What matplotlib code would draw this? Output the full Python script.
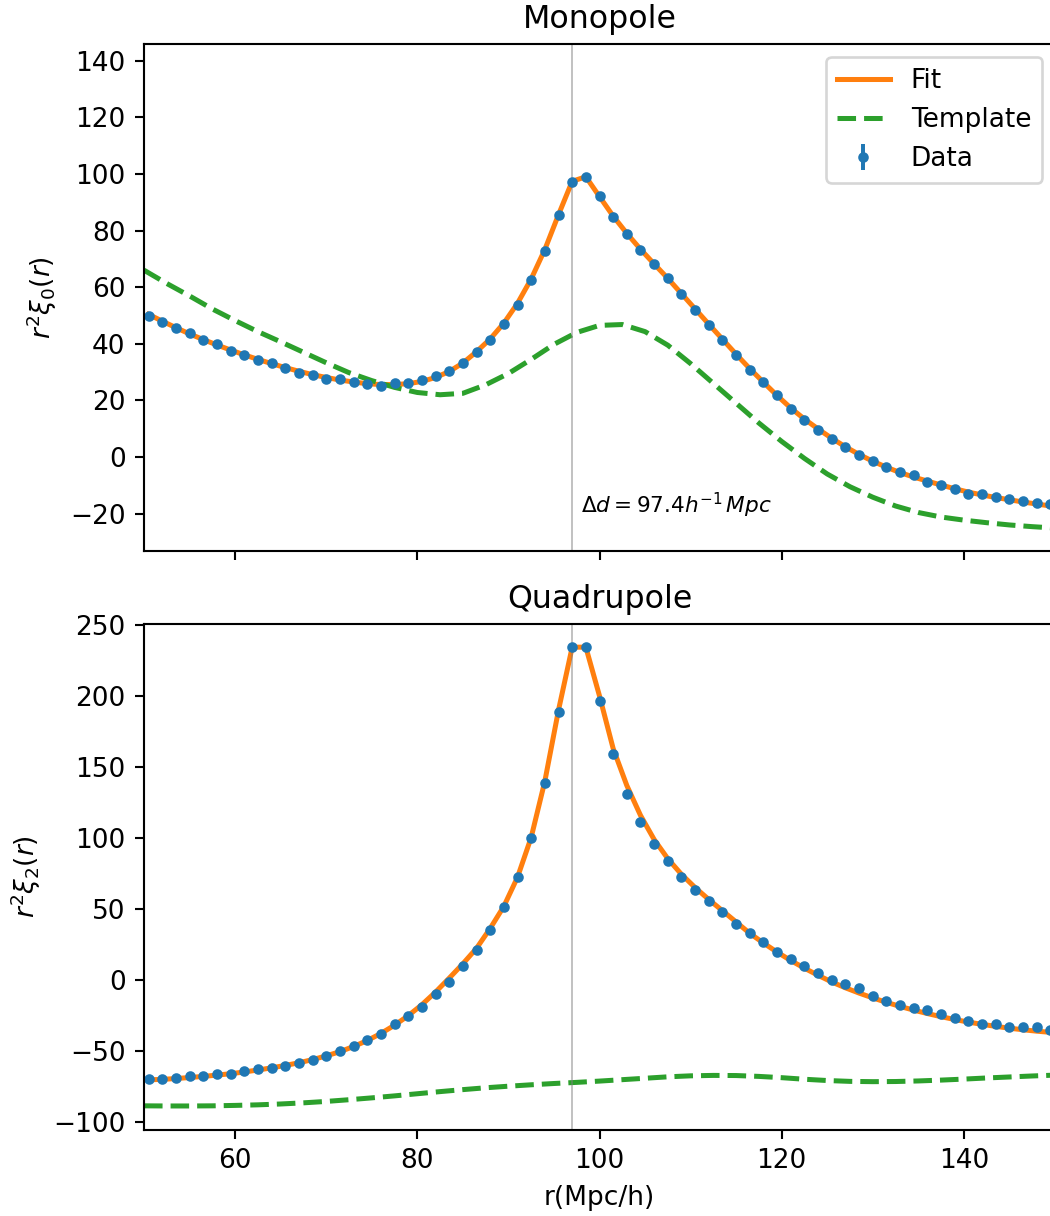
import numpy as np
import matplotlib
matplotlib.use("Agg")
import matplotlib.pyplot as plt

# separation bins (h^-1 Mpc), 1.5 wide
r = np.arange(67) * 1.5 + 50.5
r_tpl = np.arange(41) * 2.5 + 50.0

##### MONOPOLE #####
xi0_data = [49.9, 47.6, 45.4, 43.7, 41.4, 39.9, 37.6, 36.0, 34.2, 33.1,
            31.4, 29.7, 29.1, 27.6, 27.6, 26.4, 25.8, 25.2, 26.0, 26.0,
            27.1, 28.7, 30.3, 33.1, 37.1, 41.5, 47.0, 53.8, 62.6, 72.7,
            85.5, 97.1, 99.0, 92.2, 84.9, 78.7, 73.2, 68.2, 63.3, 57.5,
            52.1, 46.6, 41.5, 36.0, 30.9, 26.4, 21.9, 16.9, 13.1, 9.7,
            6.5, 3.6, 0.7, -1.5, -3.5, -5.3, -6.5, -8.7, -9.8, -11.4,
            -13.1, -13.2, -14.2, -14.7, -15.4, -16.3, -16.5]
xi0_fit = [50.4, 48.0, 45.7, 43.5, 41.5, 39.6, 37.8, 36.1, 34.5, 33.0,
           31.6, 30.3, 29.1, 28.1, 27.2, 26.5, 25.9, 25.6, 25.6, 25.9,
           26.7, 28.1, 30.2, 33.2, 37.2, 41.7, 47.3, 54.3, 62.9, 73.3,
           85.6, 97.4, 99.0, 92.0, 85.1, 79.0, 73.4, 68.2, 63.1, 57.7,
           52.3, 46.9, 41.6, 36.3, 31.2, 26.4, 21.7, 17.3, 13.4, 9.9,
           6.6, 3.6, 0.9, -1.5, -3.6, -5.5, -7.1, -8.5, -9.9, -11.2,
           -12.4, -13.4, -14.3, -15.1, -15.9, -16.6, -17.3]
xi0_tpl = [66.0, 61.3, 56.9, 52.3, 48.2, 44.3, 40.7, 37.0, 33.3, 29.8,
           27.0, 24.6, 22.8, 22.0, 22.5, 25.5, 29.5, 34.5, 39.8, 44.0,
           46.5, 46.8, 44.3, 39.5, 33.0, 26.0, 19.0, 12.0, 5.5, -0.5,
           -6.0, -10.5, -14.2, -17.3, -19.6, -21.2, -22.3, -23.2, -24.0, -24.6,
           -25.1]

##### QUADRUPOLE #####
xi2_data = [-69.7, -69.7, -68.5, -67.4, -67.4, -66.2, -66.2, -64.1, -62.7, -61.7,
            -60.6, -58.5, -56.0, -53.0, -49.5, -46.3, -41.8, -37.5, -30.8, -25.4,
            -18.5, -9.6, -0.9, 10.3, 21.1, 35.7, 51.2, 72.3, 100.0, 139.0,
            188.7, 234.3, 234.3, 196.5, 158.9, 131.0, 111.3, 95.8, 83.6, 72.3,
            63.6, 55.9, 47.9, 39.9, 33.6, 26.8, 20.2, 14.8, 10.1, 4.9,
            0.2, -2.8, -5.2, -11.0, -14.3, -17.4, -19.7, -20.7, -24.0, -26.3,
            -28.4, -31.0, -30.8, -33.1, -33.1, -33.1, -35.2]
xi2_fit = [-70.0, -69.7, -69.1, -68.4, -67.6, -66.7, -65.7, -64.5, -63.1, -61.6,
           -59.9, -58.0, -55.8, -53.2, -50.2, -46.6, -42.4, -37.4, -31.6, -24.9,
           -17.2, -8.3, 1.5, 11.6, 22.5, 36.5, 52.0, 72.5, 100.5, 140.0,
           190.0, 234.3, 234.3, 200.0, 163.0, 137.0, 116.0, 99.0, 85.5, 74.5,
           65.2, 56.8, 48.9, 41.0, 33.0, 26.2, 19.8, 13.9, 8.5, 3.5,
           -1.2, -5.3, -9.0, -12.4, -15.5, -18.4, -21.0, -23.4, -25.6, -27.6,
           -29.4, -31.0, -32.4, -33.7, -34.8, -35.8, -36.6]
xi2_tpl = [-88.3, -88.4, -88.4, -88.3, -88.0, -87.6, -87.0, -86.2, -85.2, -84.0,
           -82.7, -81.3, -79.8, -78.3, -76.9, -75.6, -74.5, -73.5, -72.6, -71.8,
           -70.9, -69.9, -68.9, -67.9, -67.2, -66.9, -67.0, -67.6, -68.5, -69.6,
           -70.5, -71.1, -71.3, -71.2, -70.8, -70.2, -69.5, -68.7, -68.0, -67.3,
           -66.7]

r_peak = 97.0

DPI = 190
fig, (ax0, ax2) = plt.subplots(2, 1, sharex=True, figsize=(1050 / DPI, 1216 / DPI), dpi=DPI)
ax0.set_position([144 / 1050, 1 - 551 / 1216, 911 / 1050, 507 / 1216])
ax2.set_position([144 / 1050, 1 - 1130 / 1216, 911 / 1050, 506 / 1216])

for ax, fit, tpl, data in [(ax0, xi0_fit, xi0_tpl, xi0_data),
                           (ax2, xi2_fit, xi2_tpl, xi2_data)]:
    ax.plot(r, fit, color='C1', lw=1.9, label='Fit')
    ax.plot(r_tpl, tpl, '--', color='C2', lw=1.9, label='Template')
    ax.errorbar(r, data, yerr=0.3, fmt='.', color='C0', label='Data')
    ax.axvline(r_peak, color='gray', lw=0.6, alpha=0.6)

ax0.set_title('Monopole')
ax0.set_ylabel(r'$r^2\xi_0(r)$')
ax0.set_ylim(-33.2, 145.9)
ax0.text(98.0, -20, r'$\Delta d = 97.4h^{-1}\,Mpc$', fontsize=8.2)
ax0.legend(loc='upper right')

ax2.set_title('Quadrupole')
ax2.set_ylabel(r'$r^2\xi_2(r)$')
ax2.set_ylim(-105.3, 250.6)
ax2.set_xlabel('r(Mpc/h)')
ax2.set_xlim(50, 150)

fig.savefig('out.png', dpi=DPI)
